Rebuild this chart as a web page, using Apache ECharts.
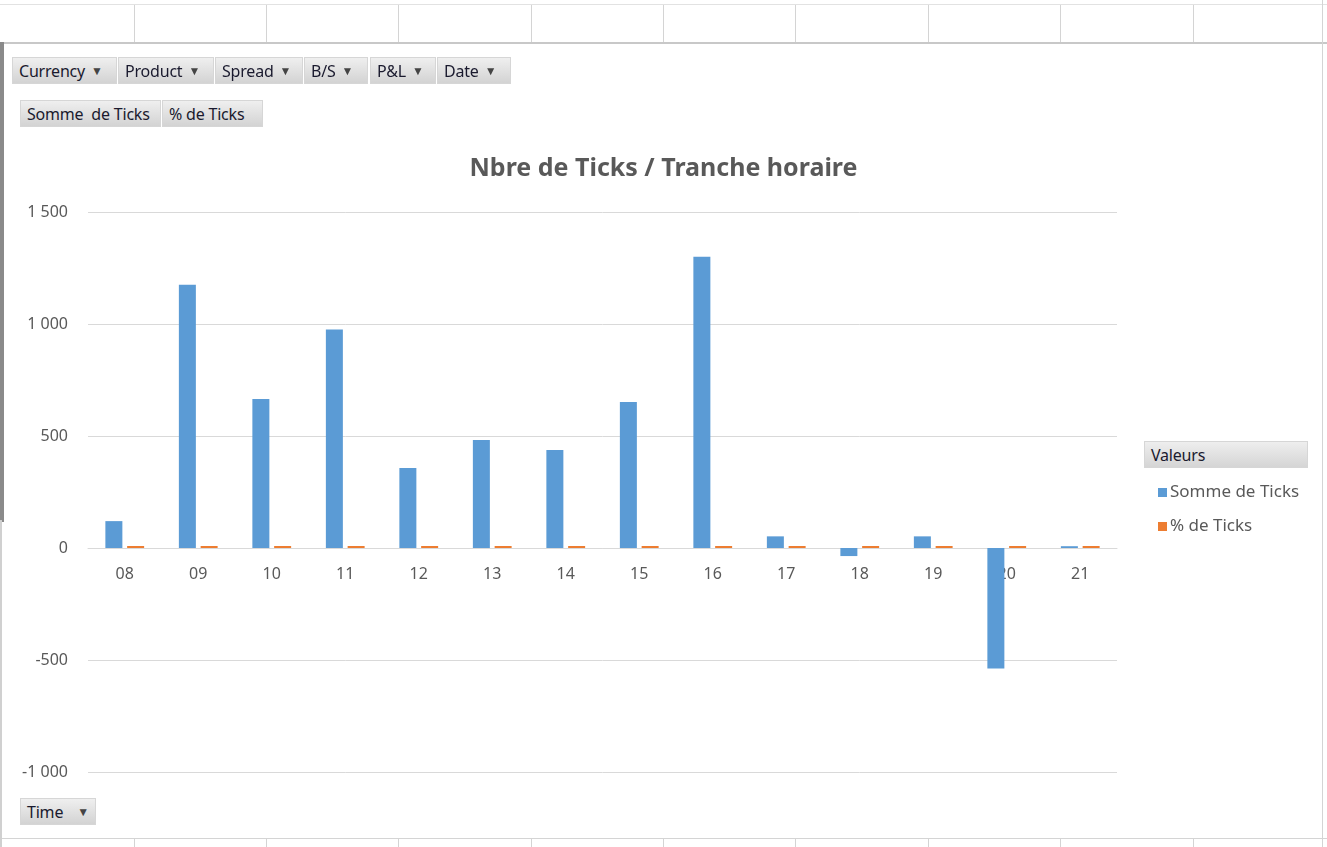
<!DOCTYPE html>
<html>
<head>
<meta charset="utf-8">
<script src="https://cdn.jsdelivr.net/npm/echarts@6/dist/echarts.min.js"></script>
<style>
  body { margin: 0; background: #fff; }
  #wrap { position: relative; width: 1327px; height: 847px; overflow: hidden; background: #fff; font-family: "Noto Sans", sans-serif; }
  #chart { position: absolute; left: 0; top: 0; width: 1327px; height: 847px; }
  .vl { position: absolute; width: 1px; background: #d4d4d4; }
  .hl { position: absolute; height: 1px; background: #c6c6c6; }
  .btn { position: absolute; height: 27px; line-height: 26px; box-sizing: border-box; padding-left: 6px;
         background: linear-gradient(#efefef, #d3d3d3); border: 1px solid #d6d6d6; font-size: 16px; color: #1a1a2e; white-space: nowrap; z-index: 2; letter-spacing: -0.2px; }
  .btn .arr { font-size: 12px; color: #444; margin-left: 6px; position: relative; top: -2px; }
</style>
</head>
<body>
<div id="wrap">
  <div id="chart"></div>
</div>
<script>
// valeurs
var heures = ['08','09','10','11','12','13','14','15','16','17','18','19','20','21'];
var sommeTicks = [120, 1175, 665, 975, 357, 482, 437, 652, 1300, 52, -36, 52, -538, 8];
var pctTicks = [0.02, 0.21, 0.12, 0.17, 0.06, 0.08, 0.08, 0.11, 0.23, 0.01, 0.01, 0.01, 0.01, 0.01];
var yTicks = { min: -1000, max: 1500, step: 500 };
var filtres = [['Currency', 12, 105], ['Product', 118, 96], ['Spread', 215, 88], ['B/S', 304, 64], ['P&L', 370, 66], ['Date', 437, 74]];
var valeurs = [['Somme&nbsp; de Ticks', 20, 141], ['% de Ticks', 162, 101]];

// décor type feuille Excel
var wrap = document.getElementById('wrap');
function add(cls, css, html) {
    var d = document.createElement('div');
    d.className = cls;
    d.style.cssText = css;
    if (html) d.innerHTML = html;
    wrap.appendChild(d);
    return d;
}
[134, 266, 398, 531, 663, 795, 928, 1060, 1193].forEach(function (x) {
    add('vl', 'left:' + x + 'px;top:4px;height:38px;');
    add('vl', 'left:' + x + 'px;top:838px;height:9px;');
});
add('hl', 'left:0;top:4px;width:1327px;background:#e2e2e2;');
add('hl', 'left:0;top:42px;width:1327px;height:2px;background:#c8c8c8;');
add('hl', 'left:0;top:838px;width:1327px;background:#d4d4d4;');
add('vl', 'left:0;top:42px;height:480px;width:4px;background:#8a8a8a;');
add('vl', 'left:0;top:520px;height:327px;width:2px;background:#d0d0d0;');
add('vl', 'left:1322px;top:0;height:847px;background:#d4d4d4;');

filtres.forEach(function (f) {
    add('btn', 'left:' + f[1] + 'px;top:57px;width:' + f[2] + 'px;',
        f[0].replace('&', '&amp;') + '<span class="arr">&#9660;</span>');
});
valeurs.forEach(function (f) {
    add('btn', 'left:' + f[1] + 'px;top:100px;width:' + f[2] + 'px;', f[0]);
});
add('btn', 'left:20px;top:798px;width:76px;', 'Time<span class="arr" style="margin-left:14px">&#9660;</span>');
add('btn', 'left:1144px;top:441px;width:164px;background:linear-gradient(#eeeeee,#d5d5d5);', 'Valeurs');

var chart = echarts.init(document.getElementById('chart'));
var options = {
    animation: false,
    title: {
        text: 'Nbre de Ticks / Tranche horaire',
        left: 'center',
        top: 151,
        textStyle: { fontFamily: 'Noto Sans', fontSize: 25, fontWeight: 'bold', color: '#595959' }
    },
    color: ['#5B9BD5', '#ED7D31'],
    legend: {
        orient: 'vertical',
        left: 1153,
        top: 479,
        itemWidth: 9,
        itemHeight: 9,
        itemGap: 17,
        icon: 'rect',
        textStyle: { fontFamily: 'Noto Sans', fontSize: 17, color: '#595959', padding: [0, 0, 0, -2] },
        data: ['Somme de Ticks', '% de Ticks']
    },
    grid: { left: 88, right: 210, top: 212, bottom: 75, containLabel: false },
    xAxis: {
        type: 'category',
        data: heures,
        offset: -224,
        axisLine: { onZero: false, lineStyle: { color: '#d9d9d9', width: 1 } },
        axisTick: { show: false },
        axisLabel: { margin: 18, fontFamily: 'Noto Sans', fontSize: 16, color: '#595959' }
    },
    yAxis: {
        type: 'value',
        min: yTicks.min,
        max: yTicks.max,
        interval: yTicks.step,
        axisLine: { show: false },
        axisTick: { show: false },
        splitLine: { lineStyle: { color: '#d9d9d9' } },
        axisLabel: {
            margin: 20,
            fontFamily: 'Noto Sans', fontSize: 16, color: '#595959',
            formatter: function (v) {
                var s = Math.abs(v).toString().replace(/\B(?=(\d{3})+(?!\d))/g, ' ');
                return (v < 0 ? '-' : '') + s;
            }
        }
    },
    series: [
        {
            name: 'Somme de Ticks',
            type: 'bar',
            barWidth: 17,
            barGap: '28%',
            data: sommeTicks
        },
        {
            name: '% de Ticks',
            type: 'bar',
            barWidth: 17,
            barMinHeight: 2,
            data: pctTicks
        }
    ]
};
chart.setOption(options);
window.addEventListener('resize', function () {
    chart.resize();
});
</script>
</body>
</html>
